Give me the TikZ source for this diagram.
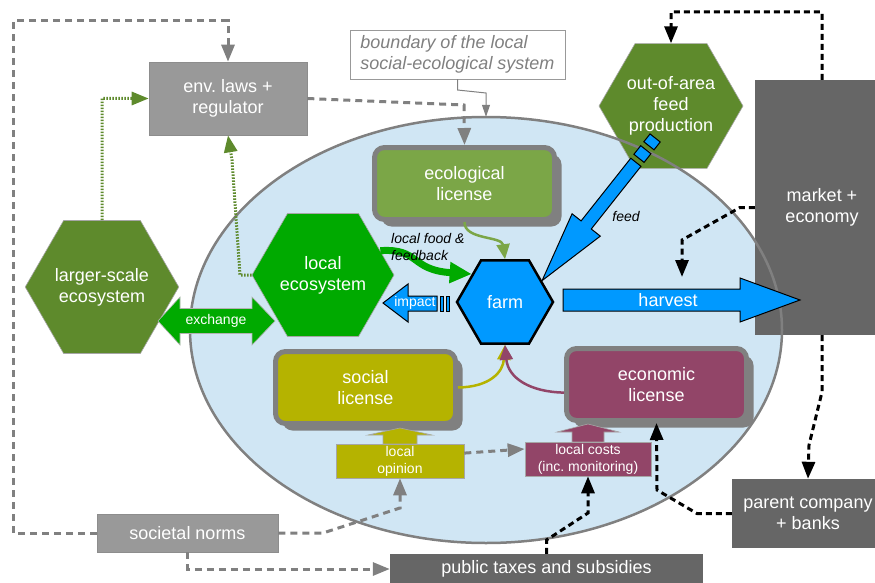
\documentclass[tikz,border=0pt]{standalone}
\usepackage{fontspec}
\setmainfont{Liberation Sans}
\usepackage{tikz}
\usetikzlibrary{arrows.meta,shapes.geometric,shadows}

\definecolor{sesblue}{HTML}{D0E6F4}
\definecolor{framegray}{HTML}{808080}
\definecolor{boxgray}{HTML}{999999}
\definecolor{marketgray}{HTML}{666666}
\definecolor{olivegreen}{HTML}{5E8A2C}
\definecolor{ecogreen}{HTML}{00AA00}
\definecolor{farmblue}{HTML}{0099FF}
\definecolor{ecolicense}{HTML}{7BA647}
\definecolor{soclicense}{HTML}{B5B300}
\definecolor{econlicense}{HTML}{924568}

\tikzset{
  bigtext/.style={font=\fontsize{18}{21}\selectfont},
  smalltext/.style={font=\fontsize{14}{17}\selectfont},
  hexa/.style={regular polygon, regular polygon sides=6, minimum size=144pt, inner sep=0pt,
    draw=framegray!70, line width=0.6pt, text=white, align=center, bigtext},
  lightbox/.style={rectangle, fill=boxgray, draw=framegray!90, line width=0.6pt, text=white, align=center, bigtext},
  darkbox/.style={rectangle, fill=marketgray, text=white, align=center, bigtext},
  licensebox/.style={rectangle, rounded corners=10pt, minimum width=180pt, minimum height=72pt,
    draw=framegray, line width=5pt, text=white, align=center, bigtext,
    drop shadow={shadow xshift=7pt, shadow yshift=-7pt, fill=framegray, opacity=1}},
  localbox/.style={rectangle, inner sep=1pt, draw=framegray!70, line width=0.6pt, text=white, align=center, smalltext},
  blockarrow/.style={fill=farmblue, draw=black, line width=1pt},
  graydash/.style={draw=framegray, line width=3pt, dash pattern=on 7pt off 5pt, -{Triangle[length=17pt,width=13pt]}},
  blackdash/.style={draw=black, line width=3pt, dash pattern=on 6pt off 4pt, -{Triangle[length=17pt,width=13pt]}},
  greendot/.style={draw=olivegreen, line width=3pt, dash pattern=on 1.5pt off 1.5pt, -{Triangle[length=17pt,width=13pt]}},
  licarrow/.style={line width=2.5pt, -{Triangle[length=15pt,width=13pt]}}
}

\begin{document}
\begin{tikzpicture}[x=1pt,y=-1pt]
\useasboundingbox (0,0) rectangle (875,583);
\node[ellipse, fill=sesblue, minimum width=592pt, minimum height=426pt, inner sep=0pt] (ses) at (486,330) {};
\node[darkbox, minimum width=134pt, minimum height=255pt] (market) at (822,207.5) {market +\\economy};
\node[hexa, fill=olivegreen] (outfeed) at (671,106) {out-of-area\\feed\\production};
\draw[framegray, line width=2.5pt] (ses.center) ellipse [x radius=296pt, y radius=213pt];

\node[lightbox, minimum width=158pt, minimum height=73pt] (laws) at (228,98.5) {env.\ laws +\\regulator};
\node[rectangle, draw=framegray!80, fill=white, text=framegray, align=left, minimum width=215pt, minimum height=49pt,
  font=\fontsize{18}{21}\selectfont\itshape] (boundary) at (457.5,54.5) {boundary of the local\\social-ecological system};
\node[lightbox, minimum width=181pt, minimum height=38pt] (norms) at (187.5,533) {societal norms};
\node[darkbox, minimum width=313pt, minimum height=30pt] (taxes) at (546.5,569) {public taxes and subsidies};
\node[darkbox, minimum width=152pt, minimum height=69pt] (parent) at (808,513.5) {parent company\\+ banks};

\node[hexa, fill=olivegreen] (largeco) at (102,287) {larger-scale\\ecosystem};
\node[hexa, fill=ecogreen, minimum size=142pt] (loceco) at (323,275) {local\\ecosystem};
\node[hexa, fill=farmblue, minimum size=96pt, draw=black, line width=2.5pt] (farm) at (505,302) {farm};

\node[licensebox, fill=ecolicense] (ecolic) at (464.5,183.5) {ecological\\license};
\node[licensebox, fill=soclicense] (soclic) at (365.5,387.5) {social\\license};
\node[licensebox, fill=econlicense] (eclic) at (656.5,384.5) {economic\\license};

% wide arrows under the two small boxes
\draw[fill=soclicense, draw=framegray!70, line width=0.6pt] (383,444) -- (383,435) -- (368,435) -- (400,428) -- (432,435) -- (417,435) -- (417,444) -- cycle;
\draw[fill=econlicense, draw=framegray!70, line width=0.6pt] (572,442) -- (572,432) -- (557,432) -- (588,424) -- (619,432) -- (604,432) -- (604,442) -- cycle;
\node[localbox, fill=soclicense, minimum width=128pt, minimum height=34pt] (opinion) at (400,461) {local\\opinion};
\node[localbox, fill=econlicense, minimum width=126pt, minimum height=34pt] (costs) at (588,459) {local costs\\(inc.\ monitoring)};

% block arrows
\draw[fill=ecogreen, draw=framegray!60, line width=0.6pt] (158,321) -- (180,297) -- (180,308.5) -- (252,308.5) -- (252,297) -- (275,321)
  -- (252,345) -- (252,333.5) -- (180,333.5) -- (180,345) -- cycle;
\node[smalltext, text=white] (exchange) at (216,321) {exchange};
\draw[blockarrow] (563,289) -- (740,289) -- (740,278) -- (800,300) -- (740,322) -- (740,311) -- (563,311) -- cycle;
\node[bigtext, text=white] (harvest) at (668,300) {harvest};
\draw[blockarrow] (437,296) -- (408,296) -- (408,284) -- (383,303) -- (408,322) -- (408,311) -- (437,311) -- cycle;
\draw[blockarrow] (440,296) rectangle (443.5,311);
\draw[blockarrow] (446,296) rectangle (449.5,311);
\node[smalltext, text=white] (impact) at (415,303) {impact};
\begin{scope}[shift={(farm.30)}, rotate=51.6]
\draw[blockarrow] (0,0) -- (71,18) -- (71,6.5) -- (151,6.5) -- (151,-6.5) -- (71,-6.5) -- (71,-18) -- cycle;
\draw[blockarrow] (156,-6.5) rectangle (167,6.5);
\draw[blockarrow] (172,-6.5) rectangle (182,6.5);
\end{scope}
\node[smalltext, font=\fontsize{14}{17}\selectfont\itshape] (feed) at (626,216) {feed};

\draw[line width=7pt, ecogreen, -{Triangle[length=22pt,width=20pt]}] (loceco.23) .. controls (420,248) and (410,270) .. (farm.140);
\node[anchor=west, align=left, inner sep=0pt, font=\fontsize{14}{17}\selectfont\itshape] (food) at (391,246.5) {local food \&\\feedback};

\draw[licarrow, ecolicense] (ecolic.south) .. controls (464,240) and (502,236) .. (farm.north);
\draw[licarrow, soclicense] (soclic.east) .. controls (490,387) and (503,372) .. (farm.south);
\draw[licarrow, econlicense] (eclic.185) .. controls (530,392) and (508,378) .. (farm.south);

\draw[draw=framegray, line width=1pt, -{Triangle[length=12pt,width=8pt]}] (boundary.south) -- (457.5,90) -- (486,93) -- (ses.north);
\draw[graydash] (norms.west) -- (13,533) -- (13,21) -- (228,21) -- (laws.north);
\draw[graydash] (laws.east) -- (464,105) -- (ecolic.north);
\draw[graydash] (norms.east) -- (323,533) -- (400,508) -- (opinion.south);
\draw[graydash] (norms.south) -- (187.5,569) -- (taxes.west);
\draw[graydash] (opinion.7) -- (costs.171);
\draw[greendot] (largeco.north) -- (102,98.5) -- (laws.west);
\draw[greendot] (loceco.west) -- (240,275) -- (232,160) -- (laws.south);

\coordinate (mktdrop) at (682,277);
\draw[blackdash] (market.north) -- (822,12) -- (671,12) -- (outfeed.north);
\draw[blackdash] (market.west) -- (740,207.5) -- (682,240) -- (mktdrop);
\draw[blackdash] (market.south) -- (822,392) -- (809,445) -- (parent.north);
\draw[blackdash] (parent.west) -- (697,513.5) -- (657,490) -- (eclic.south);
\draw[blackdash] (taxes.north) -- (546.5,540) -- (588,513) -- (costs.south);
\end{tikzpicture}
\end{document}
